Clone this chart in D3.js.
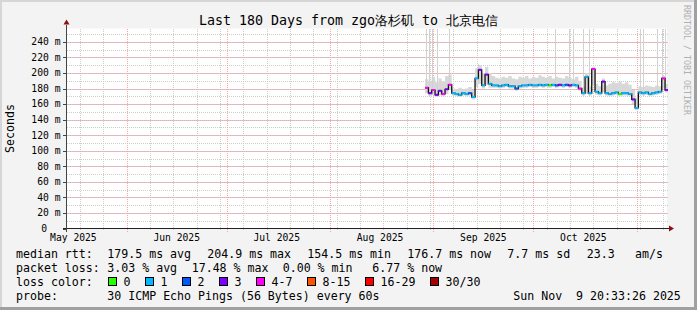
<!DOCTYPE html>
<meta charset="utf-8">
<script src="https://d3js.org/d3.v7.min.js"></script>
<style>
  body { margin: 0; background: #f3f3f3; }
  text { font-family: "DejaVu Sans Mono", monospace; }
</style>
<div id="chart"></div>
<script>

var width = 697, height = 310;

// ---- dados --------------------------------------------------------------
var title = "Last 180 Days from zgo洛杉矶 to 北京电信";
var endTime = new Date("2025-11-10T02:00:00Z");
var firstSample = new Date("2025-08-29T12:00:00Z");   // one sample per day from here

// median rtt (ms), one per day
var median = [181, 174, 178, 172, 177, 173, 179, 185,
  174, 173, 172, 174, 173, 174, 169,
  193, 204, 184, 198, 186, 184,
  184, 183, 184, 185, 183, 183, 180, 183, 184, 184, 185, 184, 184, 185, 184, 185, 184, 185, 184, 185, 184, 185, 184, 185, 184, 180,
  174, 195, 174, 205, 176, 174, 189, 174, 173, 174, 175, 173, 174, 174, 173, 166, 155, 175, 174, 175, 173, 174, 175, 176, 193, 178];

// loss class (index in lossLabels)
var loss = [4, 3, 4, 3, 3, 4, 3, 4,
  1, 1, 1, 1, 1, 2, 1,
  1, 3, 1, 3, 1, 1,
  1, 1, 1, 1, 1, 1, 2, 1, 1, 1, 1, 1, 1, 1, 1, 1, 0, 1, 2, 3, 1, 2, 3, 1, 1, 4,
  1, 1, 1, 4, 1, 1, 3, 1, 1, 1, 1, 0, 1, 1, 1, 3, 1, 1, 1, 1, 1, 1, 1, 1, 4, 3];

// smoke (ping spread) upper and lower edge, ms
var smokeHi = [192, 190, 195, 188, 193, 189, 196, 198,
  180, 179, 181, 179, 180, 182, 178,
  206, 210, 200, 208, 200, 196,
  194, 193, 195, 194, 196, 193, 192, 195, 194, 196, 193, 195, 194, 197, 195, 194, 196, 193, 195, 194, 193, 196, 194, 192, 195, 190,
  182, 200, 183, 208, 186, 183, 193, 184, 186, 188, 187, 189, 186, 188, 185, 178, 168, 183, 182, 184, 183, 182, 184, 183, 196, 186];
var smokeLo = [174, 170, 172, 169, 171, 170, 173, 178,
  171, 170, 169, 171, 170, 171, 166,
  182, 186, 180, 185, 181, 181,
  181, 180, 181, 182, 180, 180, 177, 180, 181, 181, 182, 181, 181, 182, 181, 182, 181, 182, 181, 182, 181, 182, 181, 182, 181, 177,
  171, 173, 171, 185, 172, 171, 176, 171, 170, 171, 172, 170, 171, 171, 170, 160, 152, 172, 171, 172, 170, 171, 172, 173, 180, 175];

// single very slow pings (thin grey lines)
var spikeTimes = ["2025-08-29T19:00:00Z", "2025-08-30T17:00:00Z", "2025-08-31T17:00:00Z", "2025-09-02T05:00:00Z",
  "2025-09-05T17:00:00Z", "2025-09-14T12:00:00Z", "2025-10-07T12:00:00Z", "2025-10-11T17:00:00Z",
  "2025-10-12T19:00:00Z", "2025-10-16T00:00:00Z", "2025-10-17T19:00:00Z", "2025-11-02T00:00:00Z",
  "2025-11-02T19:00:00Z", "2025-11-07T00:00:00Z", "2025-11-08T12:00:00Z", "2025-11-09T12:00:00Z"];
var spikeTops = [260, 260, 260, 260, 260, 212, 260, 260, 260, 260, 260, 260, 260, 260, 260, 260];

var yTicks = [0, 20, 40, 60, 80, 100, 120, 140, 160, 180, 200, 220, 240];
var yMax = 257.2;

var lossLabels = ["0", "1", "2", "3", "4-7", "8-15", "16-29", "30/30"];
var lossColors = ["#26ff00", "#00b8ff", "#0059ff", "#7e00ff", "#ff00ff", "#ff5500", "#ff0000", "#a10000"];

var rttLegend = ["179.5 ms avg", "204.9 ms max", "154.5 ms min", "176.7 ms now", "7.7 ms sd", "23.3", "am/s"];
var lossLegend = ["3.03 % avg", "17.48 % max", "0.00 % min", "6.77 % now"];
var probeText = "30 ICMP Echo Pings (56 Bytes) every 60s";
var stampText = "Sun Nov  9 20:33:26 2025";

// ---- desenho ------------------------------------------------------------
var svg = d3.select("#chart")
  .append("svg")
  .attr("width", width)
  .attr("height", height)
  .style("display", "block");

svg.append("rect").attr("width", width).attr("height", height).attr("fill", "#f3f3f3");
// moldura 3D
svg.append("rect").attr("x", 0).attr("y", 0).attr("width", width).attr("height", 2).attr("fill", "#d6d6d6");
svg.append("rect").attr("x", 0).attr("y", 0).attr("width", 2).attr("height", height).attr("fill", "#d6d6d6");
svg.append("rect").attr("x", 0).attr("y", height - 3).attr("width", width).attr("height", 3).attr("fill", "#a0a0a0");
svg.append("rect").attr("x", width - 3).attr("y", 0).attr("width", 3).attr("height", height).attr("fill", "#a0a0a0");

var pLeft = 67, pRight = 667, pTop = 28.5, pBottom = 228.5;

var x = d3.scaleUtc()
  .domain([d3.utcDay.offset(endTime, -180), endTime])
  .range([pLeft, pRight]);
var y = d3.scaleLinear()
  .domain([0, yMax])
  .range([pBottom, pTop]);

function cx(v) { return Math.round(v) + 0.5; }

svg.append("rect")
  .attr("x", pLeft).attr("y", pTop)
  .attr("width", pRight - pLeft).attr("height", pBottom - pTop)
  .attr("fill", "white");

svg.append("clipPath").attr("id", "plot")
  .append("rect")
  .attr("x", pLeft).attr("y", pTop)
  .attr("width", pRight - pLeft + 1).attr("height", pBottom - pTop);

var grid = svg.append("g").attr("shape-rendering", "crispEdges");

// grelha menor
var minorY = d3.range(10, yMax, 10);
var weeks = d3.utcSunday.range(x.domain()[0], x.domain()[1]);
var months = d3.utcMonth.range(x.domain()[0], x.domain()[1]);

grid.selectAll(".hmin")
  .data(minorY)
  .join("line")
  .attr("x1", pLeft).attr("x2", pRight + 1)
  .attr("y1", function(d) { return cx(y(d)); })
  .attr("y2", function(d) { return cx(y(d)); })
  .attr("stroke", "#cdcdcd")
  .attr("stroke-dasharray", "1,1");

grid.selectAll(".vmin")
  .data(weeks)
  .join("line")
  .attr("x1", function(d) { return cx(x(d)); })
  .attr("x2", function(d) { return cx(x(d)); })
  .attr("y1", pTop).attr("y2", pBottom + 2)
  .attr("stroke", "#cdcdcd")
  .attr("stroke-dasharray", "1,1");

// grelha maior
grid.selectAll(".hmaj")
  .data(yTicks.filter(function(d) { return d > 0; }))
  .join("line")
  .attr("x1", pLeft - 3).attr("x2", pRight + 1)
  .attr("y1", function(d) { return cx(y(d)); })
  .attr("y2", function(d) { return cx(y(d)); })
  .attr("stroke", "#f4a8a8")
  .attr("stroke-dasharray", "1,1");

grid.selectAll(".vmaj")
  .data(months)
  .join("line")
  .attr("x1", function(d) { return cx(x(d)); })
  .attr("x2", function(d) { return cx(x(d)); })
  .attr("y1", pTop).attr("y2", pBottom + 3)
  .attr("stroke", "#f4a8a8")
  .attr("stroke-dasharray", "1,1");

// dados por dia
var rows = median.map(function(m, i) {
  return { t: d3.utcDay.offset(firstSample, i), t2: d3.utcDay.offset(firstSample, i + 1),
           med: m, loss: loss[i], hi: smokeHi[i], lo: smokeLo[i] };
});
var last = rows[rows.length - 1];
var stepRows = rows.concat([{ t: last.t2, med: last.med, hi: last.hi, lo: last.lo }]);

var plot = svg.append("g").attr("clip-path", "url(#plot)");

// fumo
plot.append("path")
  .datum(stepRows)
  .attr("fill", "#d8d8d8")
  .attr("d", d3.area()
    .x(function(d) { return x(d.t); })
    .y0(function(d) { return y(d.lo); })
    .y1(function(d) { return y(d.hi); })
    .curve(d3.curveStepAfter));

var spikes = spikeTimes.map(function(s, i) {
  var t = new Date(s);
  var k = Math.floor((t - firstSample) / 864e5);
  return { t: t, top: spikeTops[i], base: smokeLo[k] };
});

plot.selectAll(".spike")
  .data(spikes)
  .join("line")
  .attr("shape-rendering", "crispEdges")
  .attr("x1", function(d) { return cx(x(d.t)); })
  .attr("x2", function(d) { return cx(x(d.t)); })
  .attr("y1", function(d) { return y(d.base); })
  .attr("y2", function(d) { return y(Math.min(d.top, yMax)); })
  .attr("stroke", "#d2d2d2")
  .attr("stroke-width", 1);

// mediana
plot.append("path")
  .datum(stepRows)
  .attr("fill", "none")
  .attr("stroke", "#111")
  .attr("stroke-width", 1.3)
  .attr("d", d3.line()
    .x(function(d) { return x(d.t); })
    .y(function(d) { return y(d.med); })
    .curve(d3.curveStepAfter));

plot.selectAll(".med")
  .data(rows)
  .join("line")
  .attr("x1", function(d) { return x(d.t); })
  .attr("x2", function(d) { return x(d.t2); })
  .attr("y1", function(d) { return y(d.med); })
  .attr("y2", function(d) { return y(d.med); })
  .attr("stroke", function(d) { return lossColors[d.loss]; })
  .attr("stroke-width", 2);

// eixos
var axes = svg.append("g").attr("shape-rendering", "crispEdges");
axes.append("line")
  .attr("x1", pLeft - 4).attr("x2", pRight + 2)
  .attr("y1", pBottom).attr("y2", pBottom)
  .attr("stroke", "#222");
axes.append("line")
  .attr("x1", pLeft - 0.5).attr("x2", pLeft - 0.5)
  .attr("y1", pBottom + 3).attr("y2", pTop - 4)
  .attr("stroke", "#444");
axes.selectAll(".ytick")
  .data(yTicks)
  .join("line")
  .attr("x1", pLeft - 4).attr("x2", pLeft)
  .attr("y1", function(d) { return cx(y(d)); })
  .attr("y2", function(d) { return cx(y(d)); })
  .attr("stroke", "#444");

svg.append("path")
  .attr("d", "M" + (pRight + 2) + "," + (pBottom - 3) + " L" + (pRight + 7) + "," + pBottom + " L" + (pRight + 2) + "," + (pBottom + 3) + " Z")
  .attr("fill", "#8b1010");
svg.append("path")
  .attr("d", "M" + (pLeft - 3.5) + "," + (pTop - 4) + " L" + (pLeft - 0.5) + "," + (pTop - 9) + " L" + (pLeft + 2.5) + "," + (pTop - 4) + " Z")
  .attr("fill", "#8b1010");

// rótulos
svg.selectAll(".ylab")
  .data(yTicks)
  .join("text")
  .attr("x", function(d) { return d === 0 ? 47.2 : 60.5; })
  .attr("y", function(d) { return y(d); })
  .attr("dy", "0.35em")
  .attr("text-anchor", "end")
  .style("font-size", "9.7px")
  .text(function(d) { return d === 0 ? "0" : d + " m"; });

var labelMonths = d3.utcMonth.range(d3.utcMonth.floor(x.domain()[0]), x.domain()[1])
  .map(function(m) { return { m: m, at: d3.utcDay.offset(m, 15) }; })
  .filter(function(d) { return d.at >= x.domain()[0] && d.at <= x.domain()[1]; });

svg.selectAll(".xlab")
  .data(labelMonths)
  .join("text")
  .attr("x", function(d) { return x(d.at); })
  .attr("y", 241)
  .attr("text-anchor", "middle")
  .style("font-size", "9.7px")
  .text(function(d) { return d3.utcFormat("%b %Y")(d.m); });

svg.append("text")
  .attr("x", width / 2).attr("y", 25)
  .attr("text-anchor", "middle")
  .style("font-size", "13.3px")
  .text(title);

svg.append("text")
  .attr("transform", "translate(10," + ((pTop + pBottom) / 2) + ") rotate(-90)")
  .attr("text-anchor", "middle")
  .attr("dy", "0.35em")
  .style("font-size", "11.6px")
  .text("Seconds");

svg.append("text")
  .attr("transform", "translate(687,5) rotate(90)")
  .attr("dy", "0.35em")
  .attr("fill", "#b0b0b0")
  .style("font-size", "8.3px")
  .text("RRDTOOL / TOBI OETIKER");

// legenda
var fs = "11.6px";
var lx = 16, vx = 107.3;
var rows4 = [258.3, 272, 286, 300];

svg.append("text").attr("x", lx).attr("y", rows4[0]).style("font-size", fs).text("median rtt:");
var rttX = [107.3, 207.3, 307.3, 407.3, 507.3, 586.7, 635];
rttLegend.forEach(function(s, i) {
  svg.append("text").attr("x", rttX[i]).attr("y", rows4[0]).style("font-size", fs).text(s);
});

svg.append("text").attr("x", lx).attr("y", rows4[1]).style("font-size", fs).text("packet loss:");
var lossX = [107.3, 191.7, 282.7, 372.3];
lossLegend.forEach(function(s, i) {
  svg.append("text").attr("x", lossX[i]).attr("y", rows4[1]).style("font-size", fs).text(s);
});

svg.append("text").attr("x", lx).attr("y", rows4[2]).style("font-size", fs).text("loss color:");
var bx = 108.5;
lossLabels.forEach(function(s, i) {
  svg.append("rect")
    .attr("x", bx).attr("y", 277.5)
    .attr("width", 8).attr("height", 8)
    .attr("fill", lossColors[i])
    .attr("stroke", "#000")
    .attr("shape-rendering", "crispEdges");
  svg.append("text").attr("x", bx + 15).attr("y", rows4[2]).style("font-size", fs).text(s);
  bx += 30 + 7 * s.length;
});

svg.append("text").attr("x", lx).attr("y", rows4[3]).style("font-size", fs).text("probe:");
svg.append("text").attr("x", vx).attr("y", rows4[3]).style("font-size", fs).text(probeText);
svg.append("text").attr("x", 513.3).attr("y", rows4[3]).style("font-size", fs)
  .style("white-space", "pre").text(stampText);

</script>
